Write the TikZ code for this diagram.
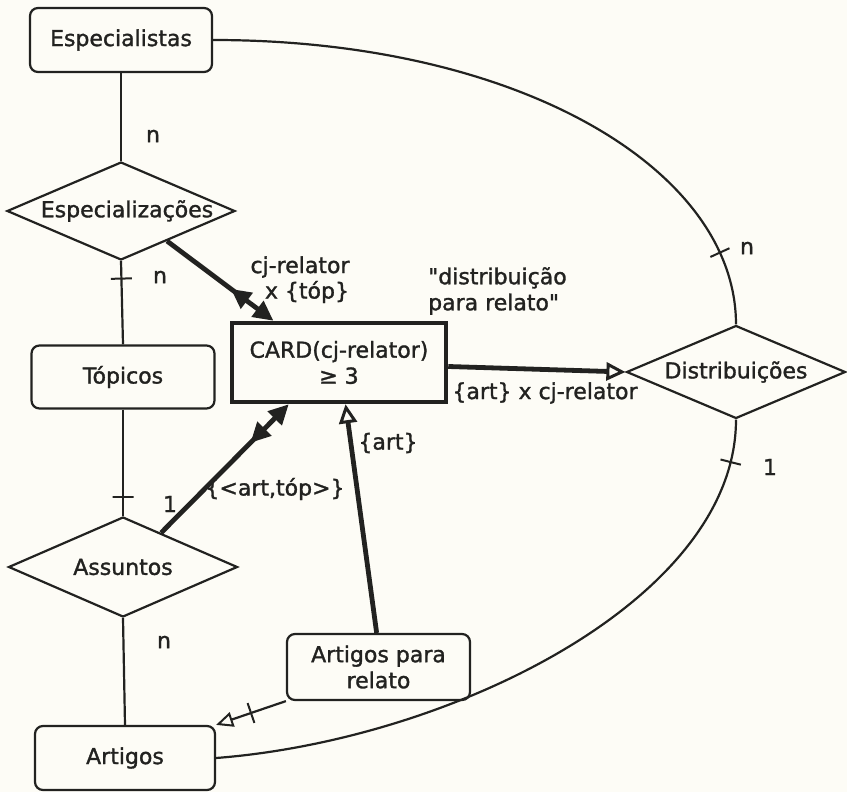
\documentclass[tikz,border=0pt]{standalone}
\usepackage{fontspec}
\newfontfamily\inkfont{DejaVu Sans}[FakeBold=1.4]
\usetikzlibrary{shapes.geometric,arrows.meta,decorations.markings,calc}
\definecolor{ink}{RGB}{34,34,32}
\definecolor{paper}{RGB}{253,252,246}
\begin{document}
\begin{tikzpicture}[x=1pt,y=-1pt,
  every node/.style={font=\inkfont\fontsize{22}{26}\selectfont, text=ink},
  entity/.style={draw=ink, line width=2.2pt, rounded corners=8pt, minimum height=64pt, inner sep=0pt, align=center},
  relation/.style={draw=ink, line width=2.2pt, diamond, inner sep=0pt},
  thinlink/.style={draw=ink, line width=2.2pt},
  heavy/.style={draw=ink, line width=4.8pt},
  tickmark/.style={draw=ink, line width=2pt, sloped, rectangle, minimum width=0pt, minimum height=21pt, inner sep=0pt},
  solidtip/.style={-{Triangle[length=20pt,width=19pt]}},
  backtip/.style={postaction={decorate}, decoration={markings, mark=at position #1 with {\arrowreversed{Triangle[length=20pt,width=19pt]}}}},
  hollowtip/.style={-{Triangle[open,length=19pt,width=18pt,line width=3pt]}},
  lbl/.style={inner sep=0pt}
]
% paper
\fill[paper] (0,0) rectangle (847,792);
\useasboundingbox (0,0) rectangle (847,792);

% entities, relationships and the constraint box
\node[entity, minimum width=182pt] (esp) at (121,40) {Especialistas};
\node[relation, minimum width=228pt, minimum height=98pt] (espz) at (121,211) {\makebox[0pt]{\kern12pt Especializações}};
\node[entity, minimum width=183pt, minimum height=63pt] (top) at (123,377) {Tópicos};
\node[relation, minimum width=229pt, minimum height=100pt] (ass) at (123,567) {\makebox[0pt]{Assuntos}};
\node[entity, minimum width=180pt] (art) at (125,758) {Artigos};
\node[draw=ink, line width=4.5pt, minimum width=214pt, minimum height=79pt, inner sep=0pt, align=center] (card) at (339,362.5) {CARD(cj-relator)\\≥ 3};
\node[relation, minimum width=219pt, minimum height=93pt] (dist) at (736,372) {\makebox[0pt]{Distribuições}};
\node[entity, minimum width=183pt, minimum height=66pt] (apr) at (378.5,667) {Artigos para\\relato};

% plain relationship lines
\draw[thinlink] (esp.south) -- (espz.north);
\draw[thinlink] (espz.south) -- node[tickmark, pos=0.21]{} (top.north);
\draw[thinlink] (top.south) -- node[tickmark, pos=0.82]{} (ass.north);
\draw[thinlink] (ass.south) -- (art.north);
\draw[thinlink] (esp.east) .. controls (520,40) and (736,170) .. (dist.north) node[tickmark, pos=0.84]{};
\draw[thinlink] (dist.south) .. controls (736,600) and (450,740) .. (art.east) node[tickmark, pos=0.08]{};
\draw[thinlink, -{Triangle[open,length=17pt,width=15pt,line width=2pt]}] (apr.south west) -- node[tickmark, pos=0.5]{} (art.north east);

% links into the constraint box
\coordinate (espzA) at ($(espz.south)!0.4!(espz.east)$);
\coordinate (cardA) at ($(card.north west)!0.2!(card.north east)$);
\coordinate (assA) at ($(ass.north)!0.33!(ass.east)$);
\coordinate (cardB) at ($(card.south west)!0.27!(card.south east)$);
\coordinate (aprA) at ($(apr.north west)!0.49!(apr.north east)$);
\coordinate (cardC) at ($(card.south west)!0.53!(card.south east)$);
\coordinate (cardD) at ([yshift=-4pt]card.east);

\draw[heavy, solidtip, backtip=0.6] (espzA) -- (cardA);
\draw[heavy, solidtip, backtip=0.7] (assA) -- (cardB);
\draw[heavy, hollowtip] (aprA) -- (cardC);
\draw[heavy, hollowtip] (cardD) -- (dist.west);

% cardinalities
\node[lbl] (c1) at (153,136) {n};
\node[lbl] (c2) at (160,277) {n};
\node[lbl] (c3) at (170,504) {1};
\node[lbl] (c4) at (164,642) {n};
\node[lbl] (c5) at (747,248) {n};
\node[lbl] (c6) at (770,467) {1};

% link labels
\node[lbl] (l1) at (300,267) {cj-relator};
\node[lbl] (l2) at (307,292) {x \{tóp\}};
\node[lbl, anchor=west, align=left] (l3) at (428,291) {"distribuição\\para relato"};
\node[lbl] (l4) at (545,393) {\{art\} x cj-relator};
\node[lbl] (l5) at (388,443) {\{art\}};
\node[lbl] (l6) at (275,489) {\{<art,tóp>\}};
\end{tikzpicture}
\end{document}
